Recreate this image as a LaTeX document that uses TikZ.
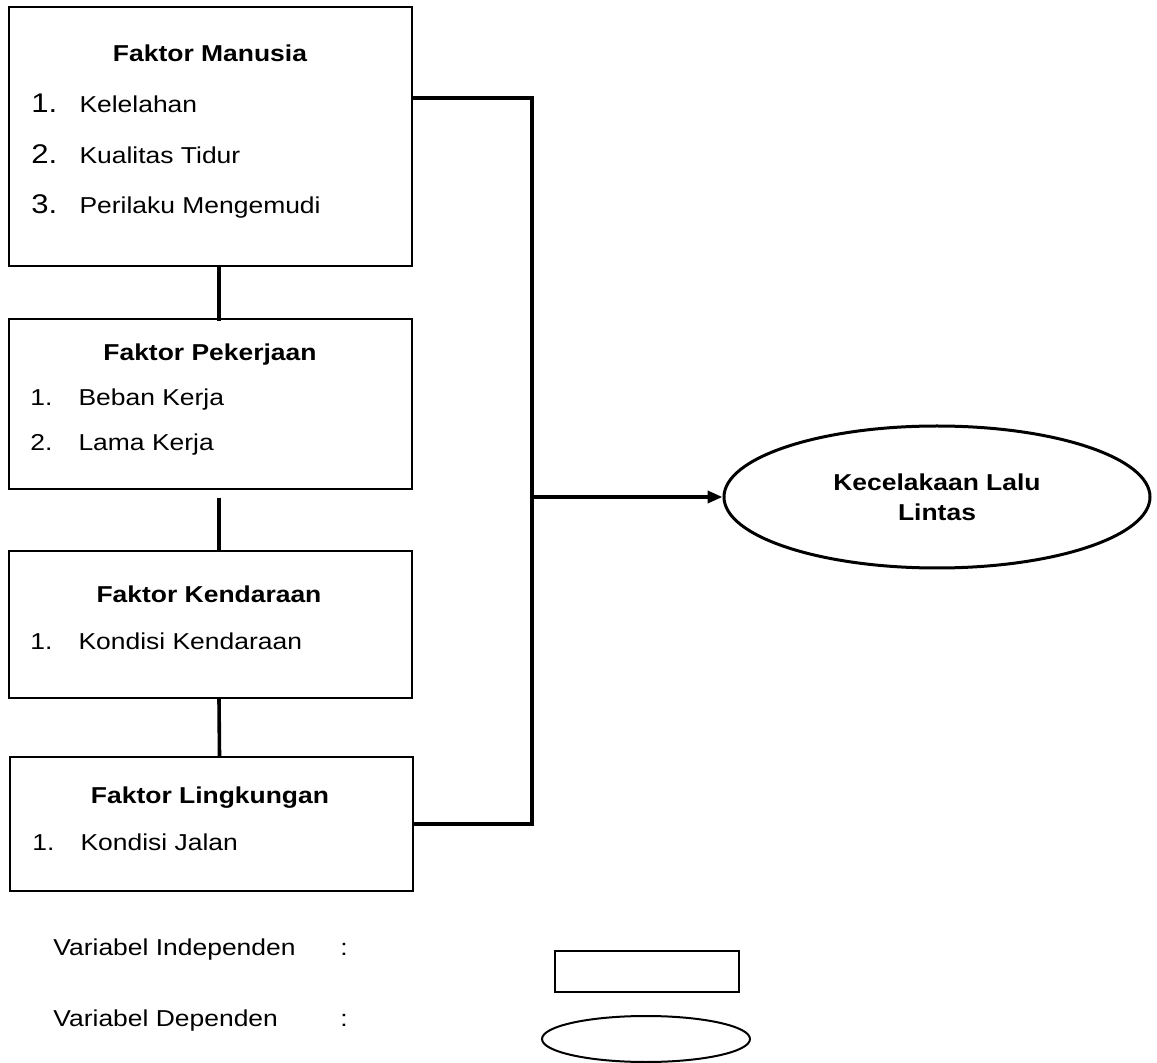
\documentclass[tikz,border=0pt]{standalone}
\usepackage{fontspec}
\setmainfont{Liberation Sans}
\usetikzlibrary{arrows.meta}
\usetikzlibrary{positioning,shapes.geometric}
\tikzset{
    faktor/.style={
           rectangle,
           draw=black, line width=1pt,
           minimum width=201.5pt,
           inner sep=0pt,
           },
    judul/.style={
           font=\fontsize{11.5}{14}\selectfont\bfseries,
           xscale=1.15,
           anchor=base,
           inner sep=0pt,
           },
    butir/.style={
           font=\fontsize{11.5}{14}\selectfont,
           xscale=1.15,
           anchor=base west,
           inner sep=0pt,
           },
    hasil/.style={
           ellipse,
           draw=black, line width=1.5pt,
           inner sep=0pt,
           },
    garis/.style={line width=1.8pt},
}
\newcommand{\nomor}[2]{\makebox[20.9pt][l]{#1}#2}

\begin{document}
\begin{tikzpicture}[x=0.5pt,y=-0.5pt]
 \useasboundingbox (0,0) rectangle (1157,1063);

 % kotak faktor (variabel independen)
 \node[faktor, minimum height=129.5pt] (Manusia) at (210.5,136.5) {};
 \node[faktor, minimum height=85pt] (Pekerjaan) at (210.5,404) {};
 \node[faktor, minimum height=73.5pt] (Kendaraan) at (210.5,624.5) {};
 \node[faktor, minimum height=67pt] (Lingkungan) at (211,824) {};

 % isi kotak
 \node[judul] (JudulManusia) at (210,62) {Faktor Manusia};
 \node[butir] (Kelelahan) at (31,113)
  {\nomor{\fontsize{13.5}{14}\selectfont 1.}{Kelelahan}};
 \node[butir] (Tidur) at (31,164)
  {\nomor{\fontsize{13.5}{14}\selectfont 2.}{Kualitas Tidur}};
 \node[butir] (Perilaku) at (31,214)
  {\nomor{\fontsize{13.5}{14}\selectfont 3.}{Perilaku Mengemudi}};

 \node[judul] (JudulPekerjaan) at (210,361) {Faktor Pekerjaan};
 \node[butir] (Beban) at (30,406) {\nomor{1.}{Beban Kerja}};
 \node[butir] (Lama) at (30,451) {\nomor{2.}{Lama Kerja}};

 \node[judul] (JudulKendaraan) at (209,603) {Faktor Kendaraan};
 \node[butir] (KondisiKendaraan) at (30,650) {\nomor{1.}{Kondisi Kendaraan}};

 \node[judul] (JudulLingkungan) at (210,803) {Faktor Lingkungan};
 \node[butir] (KondisiJalan) at (32,850) {\nomor{1.}{Kondisi Jalan}};

 % variabel dependen
 \node[hasil,
  minimum width=213pt,
  minimum height=71pt,
  align=center,
  font=\fontsize{11.5}{15}\selectfont\bfseries] (Kecelakaan) at (937,497)
  {\scalebox{1.15}[1]{Kecelakaan Lalu}\\\scalebox{1.15}[1]{Lintas}};

 % keterangan
 \node[butir] (KetIndep) at (53,955) {Variabel Independen};
 \node[butir] (TitikIndep) at (340,955) {:};
 \node[butir] (KetDep) at (53,1026) {Variabel Dependen};
 \node[butir] (TitikDep) at (340,1026) {:};
 \node[faktor, minimum width=92pt, minimum height=20.5pt] (KotakIndep) at (647,971.5) {};
 \node[hasil, line width=1pt, minimum width=104pt, minimum height=23pt] (ElipsDep) at (646,1039) {};

 % garis penghubung
 \coordinate (atas) at (532,98);
 \coordinate (bawah) at (532,824);

 \draw[garis] ([xshift=4.25pt]Manusia.south) -- ([xshift=4.25pt,yshift=-1.5pt]Pekerjaan.north);
 \draw[garis] ([xshift=4.25pt,yshift=-4pt]Pekerjaan.south) -- ([xshift=4.25pt]Kendaraan.north);
 \draw[garis] ([xshift=4.25pt]Kendaraan.south) -- ([xshift=4.25pt]Lingkungan.north);

 \draw[garis] (Manusia.east |- atas) -- (atas) -- (bawah) -- (Lingkungan.east);
 \draw[garis, -{Triangle[length=7.5pt,width=6pt]}] (atas |- Kecelakaan.west) -- (Kecelakaan.west);

\end{tikzpicture}
\end{document}
